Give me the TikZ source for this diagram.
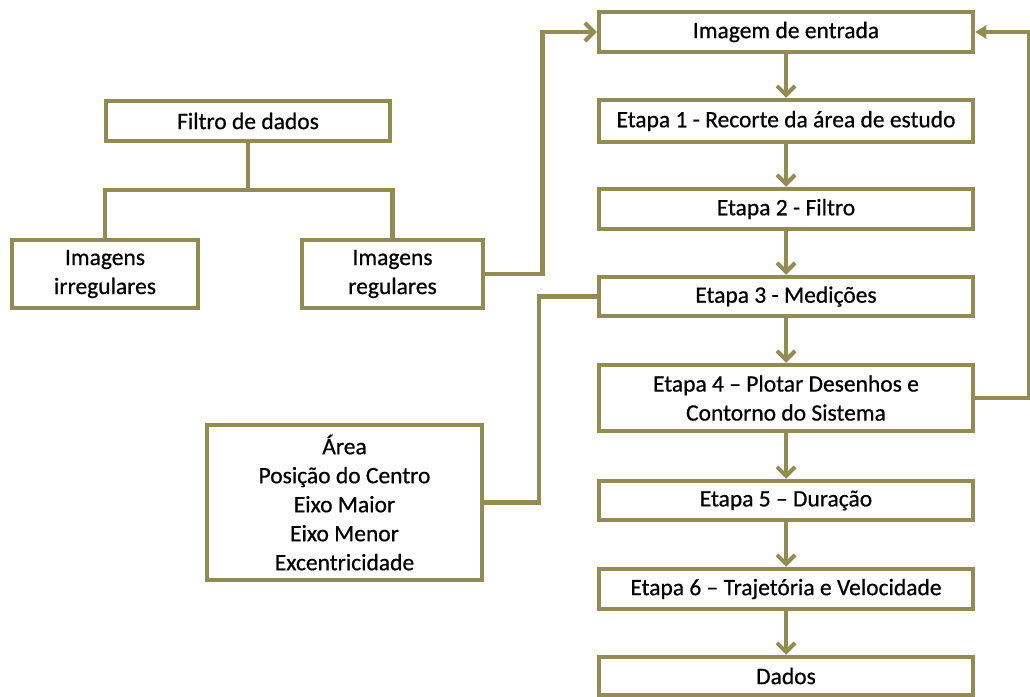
\documentclass[tikz,border=0pt]{standalone}
\usepackage{fontspec}
\setmainfont{Carlito}
\newfontfamily\boxfont{Carlito}[FakeBold=0.6]
\usetikzlibrary{arrows.meta}
\definecolor{olive}{HTML}{948A54}
\begin{document}
\begin{tikzpicture}[x=1pt,y=-1pt,
  box/.style={draw=olive,line width=4.5pt,fill=white,inner sep=0pt,align=center,font=\boxfont\fontsize{23.5}{29}\selectfont},
  conn/.style={draw=olive,line width=4.5pt},
  arr/.style={conn,-{Straight Barb[length=9pt,width=18pt,line width=4pt]}},
  tri/.style={conn,-{Triangle[length=11pt,width=13pt]}}]
\useasboundingbox (0,0) rectangle (1030,696);
% right column
\node[box,minimum width=374pt,minimum height=40pt] (e0) at (786,32) {Imagem de entrada};
\node[box,minimum width=374pt,minimum height=42pt] (e1) at (786,121) {Etapa 1 - Recorte da área de estudo};
\node[box,minimum width=374pt,minimum height=40pt] (e2) at (786,209) {Etapa 2 - Filtro};
\node[box,minimum width=374pt,minimum height=39pt] (e3) at (786,296.5) {Etapa 3 - Medições};
\node[box,minimum width=374pt,minimum height=66pt] (e4) at (786,398) {Etapa 4 – Plotar Desenhos e\\Contorno do Sistema};
\node[box,minimum width=374pt,minimum height=39pt] (e5) at (786,500.5) {Etapa 5 – Duração};
\node[box,minimum width=374pt,minimum height=40pt] (e6) at (786,589) {Etapa 6 – Trajetória e Velocidade};
\node[box,minimum width=374pt,minimum height=38pt] (e7) at (786,676) {Dados};
% left
\node[box,minimum width=284pt,minimum height=40pt] (filtro) at (248,121) {Filtro de dados};
\node[box,minimum width=186pt,minimum height=68pt] (irr) at (105,274) {Imagens\\irregulares};
\node[box,minimum width=181pt,minimum height=68pt] (reg) at (392.5,274) {Imagens\\regulares};
\node[box,minimum width=275pt,minimum height=155pt] (area) at (344.5,502.5) {Área\\Posição do Centro\\Eixo Maior\\Eixo Menor\\Excentricidade};
% connectors
\coordinate (fj) at (248,190);
\draw[conn] (filtro.south) -- (fj);
\draw[conn,line join=miter] (irr.north) |- (fj) -| (reg.north);
\draw[arr,line join=miter] (reg.east) -- ++(57,0) |- (e0.west);
\draw[tri,line join=miter] (e4.east) -- ++(54,0) |- (e0.east);
\draw[conn,line join=miter] (e3.west) -- ++(-58,0) |- (area.east);
\draw[arr] (e0.south) -- (e1.north);
\draw[arr] (e1.south) -- (e2.north);
\draw[arr] (e2.south) -- (e3.north);
\draw[arr] (e3.south) -- (e4.north);
\draw[arr] (e4.south) -- (e5.north);
\draw[arr] (e5.south) -- (e6.north);
\draw[arr] (e6.south) -- (e7.north);
\end{tikzpicture}
\end{document}
